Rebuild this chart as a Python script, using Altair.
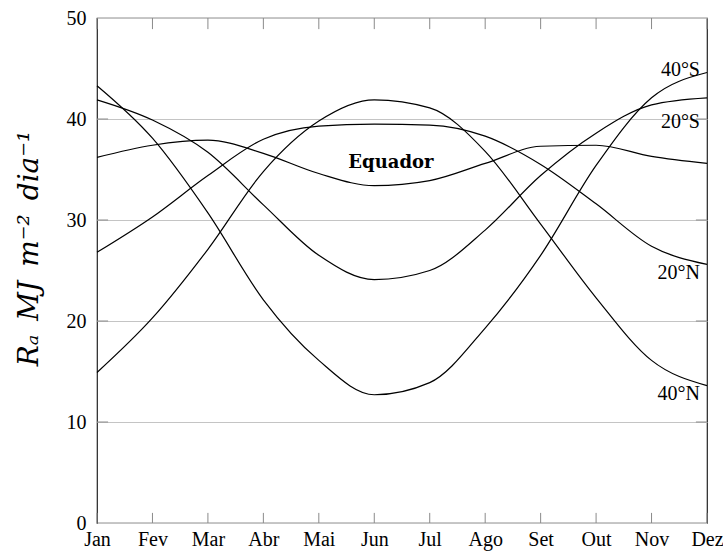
import altair as alt
import pandas as pd

# Extraterrestrial radiation Ra (MJ m-2 dia-1) by month for five latitudes
MONTHS = ["Jan", "Fev", "Mar", "Abr", "Mai", "Jun", "Jul", "Ago", "Set", "Out", "Nov", "Dez"]
RA_40S = [43.3, 38.1, 30.7, 22.1, 16.1, 12.7, 13.9, 19.3, 26.5, 35.4, 42.1, 44.6]
RA_20S = [41.9, 39.9, 36.7, 31.5, 26.5, 24.1, 25.0, 29.0, 34.4, 38.6, 41.4, 42.1]
RA_EQ = [36.2, 37.4, 37.9, 36.6, 34.6, 33.4, 33.9, 35.6, 37.3, 37.4, 36.3, 35.6]
RA_20N = [26.8, 30.3, 34.4, 38.0, 39.3, 39.5, 39.4, 38.3, 35.5, 31.6, 27.4, 25.6]
RA_40N = [14.9, 20.3, 27.1, 34.8, 39.8, 41.9, 41.1, 36.8, 29.6, 22.3, 16.1, 13.6]

SERIES = {"40°S": RA_40S, "20°S": RA_20S, "Equador": RA_EQ, "20°N": RA_20N, "40°N": RA_40N}

# Curve labels: name, month position, value position
SIDE_LABELS = ["40°S", "20°S", "20°N", "40°N"]
SIDE_LABEL_Y = [44.9, 39.7, 24.8, 12.8]
EQ_LABEL_X = [5.3]
EQ_LABEL_Y = [35.6]

Y_TICKS = [0, 10, 20, 30, 40, 50]
FONT = "Liberation Serif"
MATH_FONT = "DejaVu Serif"

# en spaces keep the gaps between the unit factors (SVG collapses plain spaces)
SP = "\u2002"
Y_TITLE = f"Rₐ{SP}MJ{SP}m⁻²{SP}dia⁻¹"

rows = []
for name, vals in SERIES.items():
    for i, v in enumerate(vals):
        rows.append({"serie": name, "mes": i, "ra": v})
df = pd.DataFrame(rows)

side_df = pd.DataFrame({"nome": SIDE_LABELS, "mes": [len(MONTHS) - 1] * len(SIDE_LABELS), "ra": SIDE_LABEL_Y})
eq_df = pd.DataFrame({"nome": ["Equador"], "mes": EQ_LABEL_X, "ra": EQ_LABEL_Y})

month_idx = pd.DataFrame({"mes": list(range(len(MONTHS)))})
inner_y = pd.DataFrame({"ra": Y_TICKS[1:-1]})

label_expr = "[" + ",".join(f"'{m}'" for m in MONTHS) + "][datum.value]"

x_scale = alt.Scale(domain=[0, len(MONTHS) - 1], nice=False, zero=False)
y_scale = alt.Scale(domain=[0, 50], nice=False)

x_axis = alt.Axis(values=list(range(len(MONTHS))), labelExpr=label_expr, title=None,
                  grid=False, ticks=False, domain=False, labelFont=FONT, labelFontSize=20,
                  labelColor="black", labelPadding=6, labelFlush=False, labelOverlap=False)
y_axis = alt.Axis(values=Y_TICKS, title=Y_TITLE, grid=True, gridColor="#c4c4c4",
                  gridWidth=1, ticks=False, domain=False, labelFont=FONT, labelFontSize=20,
                  labelColor="black", labelPadding=11, labelFlush=False,
                  titleFont=MATH_FONT, titleFontStyle="italic",
                  titleFontWeight="normal", titleFontSize=28, titleColor="black",
                  titleX=-68, titleY=230, titleAngle=-90, titleAlign="center",
                  titleBaseline="middle")

lines = alt.Chart(df).mark_line(color="black", strokeWidth=1.2, interpolate="monotone").encode(
    x=alt.X("mes:Q", scale=x_scale, axis=x_axis),
    y=alt.Y("ra:Q", scale=y_scale, axis=y_axis),
    detail="serie:N",
)

tick_style = dict(color="#8a8a8a", strokeWidth=1)

# Inward month ticks on bottom and top edges
bottom_ticks = alt.Chart(month_idx).mark_rule(**tick_style).encode(
    x="mes:Q", y=alt.datum(0), y2=alt.datum(1.0)
)
top_ticks = alt.Chart(month_idx).mark_rule(**tick_style).encode(
    x="mes:Q", y=alt.datum(50), y2=alt.datum(48.9)
)
# Inward value ticks on left and right edges
left_ticks = alt.Chart(inner_y).mark_rule(**tick_style).encode(
    y="ra:Q", x=alt.datum(0), x2=alt.datum(0.2)
)
right_ticks = alt.Chart(inner_y).mark_rule(**tick_style).encode(
    y="ra:Q", x=alt.datum(11), x2=alt.datum(10.8)
)

side_text = alt.Chart(side_df).mark_text(
    font=FONT, fontSize=20, align="right", baseline="middle", dx=-7, color="black"
).encode(x="mes:Q", y="ra:Q", text="nome:N")

eq_text = alt.Chart(eq_df).mark_text(
    font=MATH_FONT, fontSize=18, fontWeight="bold", align="center", baseline="middle", color="black"
).encode(x="mes:Q", y="ra:Q", text="nome:N")

chart = alt.layer(
    bottom_ticks, top_ticks, left_ticks, right_ticks, lines, side_text, eq_text
).properties(
    width=610,
    height=505,
    autosize=alt.AutoSizeParams(type="none"),
    padding={"left": 97, "top": 18, "right": 16, "bottom": 31},
    background="white",
).configure_view(
    stroke="#222222", strokeWidth=1.2
)

chart.save("out.html", embed_options={"renderer": "svg", "actions": False})
